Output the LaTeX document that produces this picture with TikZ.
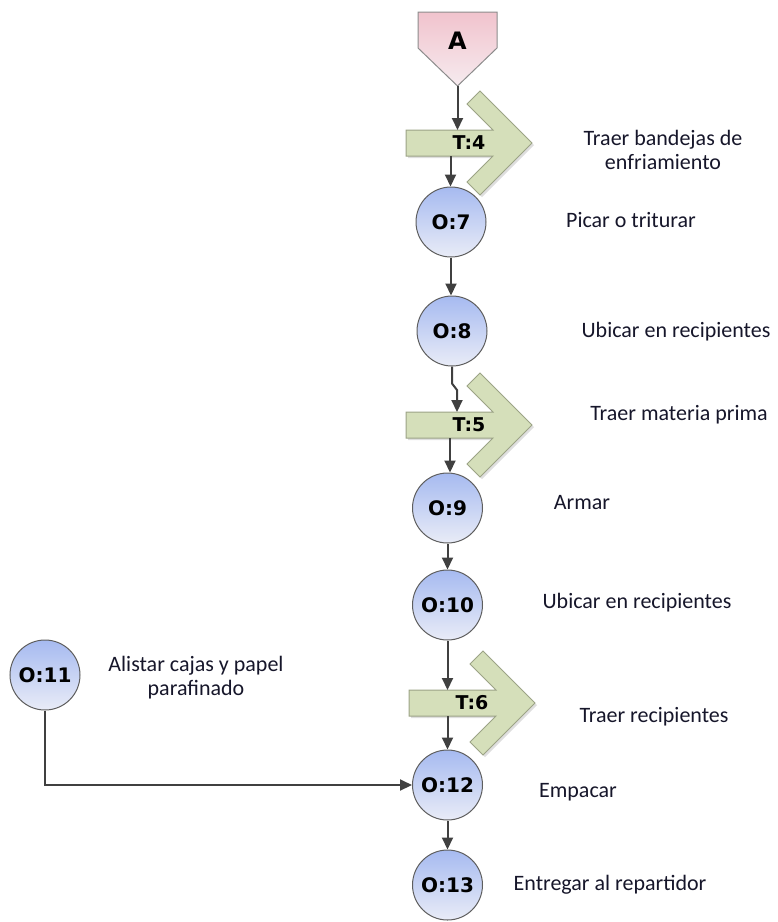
\documentclass[tikz,border=0pt]{standalone}
\usepackage{fontspec}
\setmainfont{Carlito}
\newfontfamily\lblfont{DejaVu Sans}
\usetikzlibrary{arrows.meta,calc}

\definecolor{opTop}{HTML}{A6BAF0}
\definecolor{opBot}{HTML}{E9ECF7}
\definecolor{opLine}{HTML}{5E5E5E}
\definecolor{trFill}{HTML}{D5DFBA}
\definecolor{trLine}{HTML}{9CA386}
\definecolor{pkTop}{HTML}{F1C3CD}
\definecolor{pkBot}{HTML}{F6EBEF}
\definecolor{pkLine}{HTML}{8C8C8C}
\definecolor{flowC}{HTML}{404040}
\definecolor{txtC}{HTML}{16162A}

\tikzset{
  op/.style={circle, draw=opLine, line width=1pt, top color=opTop, bottom color=opBot,
    minimum size=70pt, inner sep=0pt, font=\lblfont\bfseries\fontsize{20}{23}\selectfont},
  trlabel/.style={inner sep=0pt, font=\lblfont\bfseries\fontsize{19}{22}\selectfont},
  trshape/.style={draw=trLine, line width=1pt, fill=trFill, line join=miter},
  trshadow/.style={fill=black, fill opacity=0.13},
  flow/.style={draw=flowC, line width=2pt, -{Triangle[length=12pt,width=11pt]}},
  desc/.style={inner sep=0pt, align=center, text=txtC, font=\fontsize{22}{24}\selectfont}
}

% transport symbol: bar with a chevron; #1 = x shift, #2 = centre line y
\newcommand\transportsym[2]{%
  \path[trshadow] ({406+#1+2},{#2-11}) -- ({493+#1+2},{#2-11}) -- ({467+#1+2},{#2-37})
    -- ({480+#1+2},{#2-50}) -- ({532+#1+2},{#2+2}) -- ({480+#1+2},{#2+54})
    -- ({467+#1+2},{#2+41}) -- ({493+#1+2},{#2+15}) -- ({406+#1+2},{#2+15}) -- cycle;
  \path[trshape] ({406+#1},{#2-13}) -- ({493+#1},{#2-13}) -- ({467+#1},{#2-39})
    -- ({480+#1},{#2-52}) -- ({532+#1},{#2}) -- ({480+#1},{#2+52})
    -- ({467+#1},{#2+39}) -- ({493+#1},{#2+13}) -- ({406+#1},{#2+13}) -- cycle;
}

\begin{document}
\begin{tikzpicture}[x=1pt,y=-1pt]
\useasboundingbox (0,0) rectangle (778,922);

% connector symbol A
\path[draw=pkLine, line width=1pt, top color=pkTop, bottom color=pkBot]
  (418,12) -- (497,12) -- (497,48) -- (457.5,86) -- (418,48) -- cycle;
\node[inner sep=0pt, font=\lblfont\bfseries\fontsize{24}{27}\selectfont] (A) at (457.5,41) {A};
\coordinate (Atip) at (457.5,86);

% transports
\transportsym{0}{143}
\node[trlabel] (t4) at (469,143) {T:4};
\coordinate (t4in) at (457.5,130);
\coordinate (t4out) at (450.5,156);

\transportsym{0}{425}
\node[trlabel] (t5) at (469,425) {T:5};
\coordinate (t5in) at (457,412);
\coordinate (t5out) at (450,438);

\transportsym{3}{703}
\node[trlabel] (t6) at (472,703) {T:6};
\coordinate (t6in) at (447.5,690);
\coordinate (t6out) at (447.5,716);

% operations
\node[op] (o7)  at (451,222) {O:7};
\node[op] (o8)  at (452,331) {O:8};
\node[op] (o9)  at (447.5,508) {O:9};
\node[op] (o10) at (447.5,605) {O:10};
\node[op] (o11) at (45,675) {O:11};
\node[op] (o12) at (447.5,785) {O:12};
\node[op] (o13) at (447.5,885) {O:13};

% flow lines
\draw[flow] (Atip) -- (t4in);
\draw[flow] (t4out) -- (t4out |- o7.north);
\draw[flow] (o7.south) -- (o7.south |- o8.north);
\draw[flow] (o8.south) -- ($(o8.south)+(0,17)$) -- ($(t5in)+(0,-22)$) -- (t5in);
\draw[flow] (t5out) -- (t5out |- o9.north);
\draw[flow] (o9.south) -- (o10.north);
\draw[flow] (o10.south) -- (t6in);
\draw[flow] (t6out) -- (o12.north);
\draw[flow] (o12.south) -- (o13.north);
\draw[flow] (o11.south) |- (o12.west);

% descriptions
\node[desc] (d4)  at (663,150) {Traer bandejas de\\enfriamiento};
\node[desc] (d7)  at (631,220) {Picar o triturar};
\node[desc] (d8)  at (676,332) {Ubicar en recipientes};
\node[desc] (d5)  at (679,415) {Traer materia prima};
\node[desc] (d9)  at (582,503) {Armar};
\node[desc] (d10) at (637,603) {Ubicar en recipientes};
\node[desc] (d11) at (196,678) {Alistar cajas y papel\\parafinado};
\node[desc] (d6)  at (654,717) {Traer recipientes};
\node[desc] (d12) at (578,792) {Empacar};
\node[desc] (d13) at (610,885) {Entregar al repartidor};
\end{tikzpicture}
\end{document}
